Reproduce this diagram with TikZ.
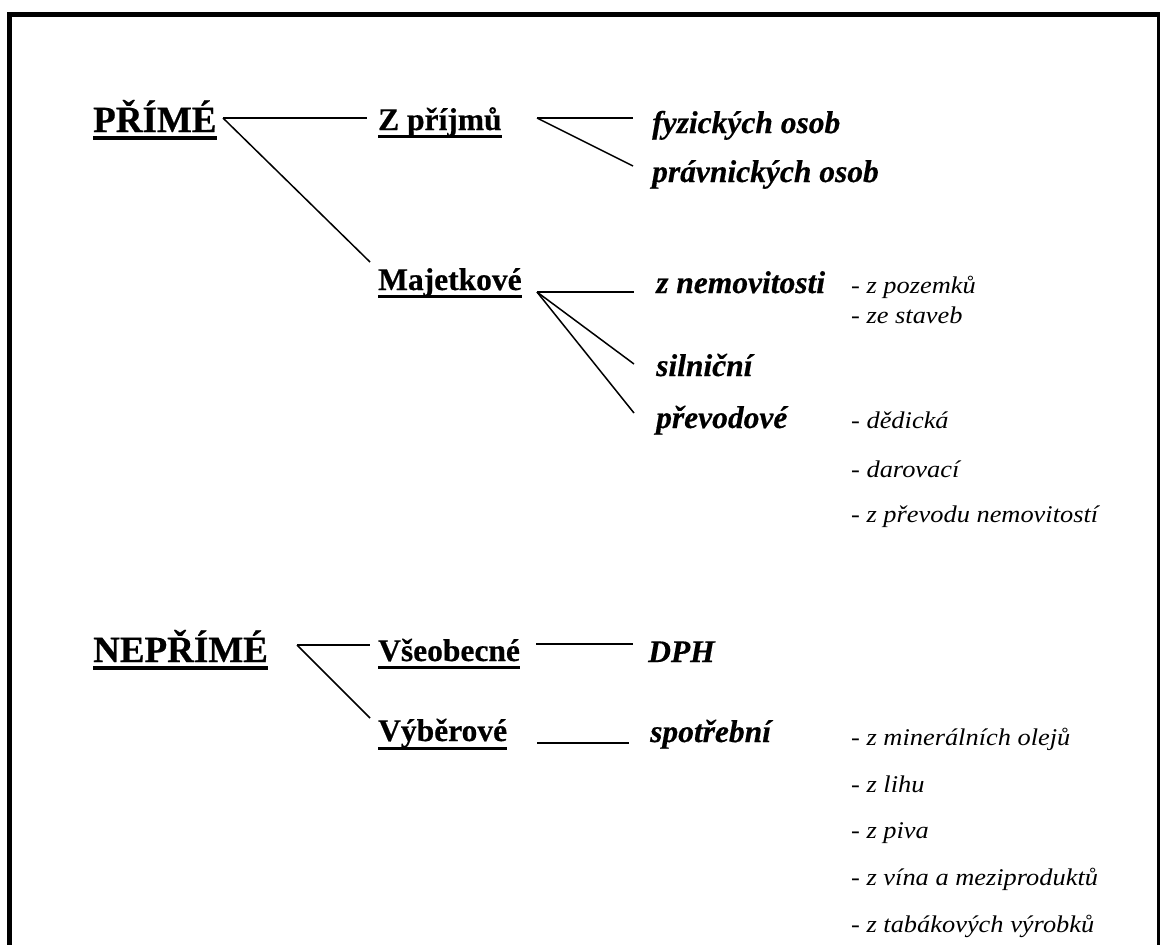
\documentclass[tikz,border=0pt]{standalone}
\usepackage{fontspec}
\setmainfont{Liberation Serif}
\newfontfamily\hdfont[FakeBold=0.6]{Liberation Serif}
\newfontfamily\mdfont[FakeBold=0.5]{Liberation Serif}
\newfontfamily\sbfont[FakeStretch=1.1]{Liberation Serif}
\begin{document}
\begin{tikzpicture}[x=1pt,y=-1pt,
  lone/.style={anchor=base west,inner sep=0pt,font=\hdfont\bfseries\fontsize{37}{40}\selectfont},
  ltwo/.style={anchor=base west,inner sep=0pt,font=\mdfont\bfseries\fontsize{31.5}{34}\selectfont},
  lthree/.style={anchor=base west,inner sep=0pt,font=\mdfont\bfseries\itshape\fontsize{31.5}{34}\selectfont},
  lsub/.style={anchor=base west,inner sep=0pt,font=\sbfont\itshape\fontsize{24}{26}\selectfont},
  conn/.style={line width=1.5pt},
  ulone/.style={line width=3.2pt},
  ultwo/.style={line width=2.8pt},
  frame/.style={line width=5pt},
  framethin/.style={line width=2.5pt}]
\useasboundingbox (0,0) rectangle (1160,945);
% frame
\draw[frame] (9.5,945) -- (9.5,14) -- (1160,14);
\draw[framethin] (1158.5,14) -- (1158.5,945);

% level 1
\node[lone] (prime) at (93,132) {PŘÍMÉ};
\node[lone] (neprime) at (93,662) {NEPŘÍMÉ};
\draw[ulone] ([yshift=-6pt]prime.base west) -- ([yshift=-6pt]prime.base east);
\draw[ulone] ([yshift=-6pt]neprime.base west) -- ([yshift=-6pt]neprime.base east);

% level 2
\node[ltwo] (zprijmu) at (378,130) {Z příjmů};
\node[ltwo] (majet) at (378,290) {Majetkové};
\node[ltwo] (vseob) at (378,661) {Všeobecné};
\node[ltwo] (vyber) at (378,741) {Výběrové};
\foreach \n in {zprijmu,majet,vseob}
  \draw[ultwo] ([yshift=-6.5pt]\n.base west) -- ([yshift=-6.5pt]\n.base east);
\draw[ultwo] ([yshift=-7.5pt]vyber.base west) -- ([yshift=-7.5pt]vyber.base east);

% level 3
\node[lthree] (fyz) at (652,133) {fyzických osob};
\node[lthree] (prav) at (652,182) {právnických osob};
\node[lthree] (znem) at (656,293) {z nemovitosti};
\node[lthree] (siln) at (656,376) {silniční};
\node[lthree] (prev) at (656,428) {převodové};
\node[lthree] (dph) at (648,662) {DPH};
\node[lthree] (spotr) at (650,742) {spotřební};

% sub items
\node[lsub] (s1) at (851,293) {- z pozemků};
\node[lsub] (s2) at (851,323) {- ze staveb};
\node[lsub] (s3) at (851,428) {- dědická};
\node[lsub] (s4) at (851,477) {- darovací};
\node[lsub] (s5) at (851,522) {- z převodu nemovitostí};
\node[lsub] (t1) at (851,745) {- z minerálních olejů};
\node[lsub] (t2) at (851,792) {- z lihu};
\node[lsub] (t3) at (851,838) {- z piva};
\node[lsub] (t4) at (851,885) {- z vína a meziproduktů};
\node[lsub] (t5) at (851,932) {- z tabákových výrobků};

% connector end points
\coordinate (primeout) at (223,118);
\coordinate (zprijmuin) at (367,118);
\coordinate (majetin) at (370,262);
\coordinate (zprijmuout) at (537,118);
\coordinate (fyzin) at (633,118);
\coordinate (pravin) at (633,166);
\coordinate (majetout) at (537,292);
\coordinate (znemin) at (634,292);
\coordinate (silnin) at (634,364);
\coordinate (previn) at (634,413);
\coordinate (neprimeout) at (297,645);
\coordinate (vseobin) at (370,645);
\coordinate (vyberin) at (370,718);
\coordinate (vseobout) at (536,644);
\coordinate (dphin) at (633,644);
\coordinate (vyberout) at (537,743);
\coordinate (spotrin) at (629,743);

\draw[conn] (primeout) -- (zprijmuin);
\draw[conn] (primeout) -- (majetin);
\draw[conn] (zprijmuout) -- (fyzin);
\draw[conn] (zprijmuout) -- (pravin);
\draw[conn] (majetout) -- (znemin);
\draw[conn] (majetout) -- (silnin);
\draw[conn] (majetout) -- (previn);
\draw[conn] (neprimeout) -- (vseobin);
\draw[conn] (neprimeout) -- (vyberin);
\draw[conn] (vseobout) -- (dphin);
\draw[conn] (vyberout) -- (spotrin);
\end{tikzpicture}
\end{document}
